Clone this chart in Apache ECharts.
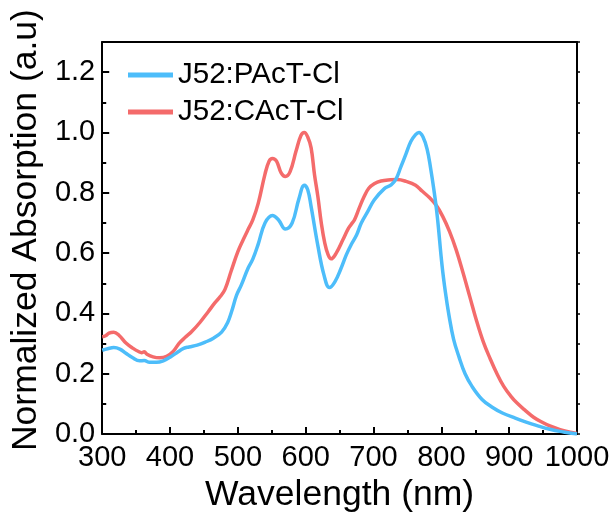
<!DOCTYPE html>
<html>
<head>
<meta charset="utf-8">
<script src="https://cdn.jsdelivr.net/npm/echarts@6/dist/echarts.min.js"></script>
<style>html,body{margin:0;padding:0;background:#fff}#c{width:613px;height:518px}</style>
</head>
<body>
<div id="c"></div>
<script>
const seriesNames = ['J52:PAcT-Cl', 'J52:CAcT-Cl'];
const xTicks = [300, 400, 500, 600, 700, 800, 900, 1000];
const yTicks = [0.0, 0.2, 0.4, 0.6, 0.8, 1.0, 1.2];

const paWave = [300,308,317,326,335,345,355,362,370,380,390,400,410,420,428,440,452,464,476,485,491,498,505,515,522,530,540,551,560,570,580,590,598,603,608,618,627,635,643,652,660,667,675,682,692,701,716,726,733,740,748,755,762,767,773,779,784,789,794,801,806,811,818,826,835,845,860,875,890,909,925,940,960,980,1000];
const paAbs  = [0.278,0.283,0.287,0.282,0.268,0.253,0.243,0.244,0.238,0.238,0.243,0.255,0.27,0.284,0.289,0.295,0.305,0.318,0.338,0.37,0.408,0.46,0.494,0.55,0.58,0.63,0.70,0.725,0.71,0.68,0.70,0.78,0.825,0.81,0.754,0.624,0.527,0.486,0.505,0.549,0.595,0.628,0.66,0.70,0.74,0.776,0.814,0.826,0.845,0.884,0.93,0.97,0.993,1.0,0.985,0.945,0.884,0.81,0.722,0.56,0.47,0.397,0.315,0.256,0.2,0.159,0.115,0.089,0.07,0.053,0.04,0.029,0.016,0.007,0.0];

const caWave = [300,305,310,317,325,335,345,355,358,362,366,375,385,395,405,413,422,432,444,456,466,474,481,490,500,508,515,522,530,540,546,551,557,564,570,577,586,593,598,603,608,613,618,623,628,633,637.5,645,655,662,667,672,679,686,693,701,711,725,735,748,762,772,782,792,802,812,822,832,842,852,862,872,882,892,902,912,924,936,948,960,975,990,1000];
const caAbs  = [0.323,0.326,0.335,0.338,0.327,0.302,0.285,0.272,0.27,0.273,0.265,0.256,0.253,0.258,0.275,0.30,0.32,0.34,0.37,0.405,0.435,0.456,0.48,0.54,0.605,0.645,0.678,0.71,0.765,0.862,0.905,0.914,0.905,0.865,0.854,0.87,0.94,0.99,1.0,0.985,0.949,0.86,0.787,0.70,0.635,0.595,0.581,0.60,0.645,0.678,0.695,0.711,0.75,0.787,0.815,0.83,0.839,0.843,0.844,0.838,0.825,0.805,0.785,0.76,0.722,0.672,0.61,0.535,0.455,0.375,0.305,0.25,0.2,0.158,0.127,0.102,0.078,0.056,0.04,0.027,0.015,0.006,0.002];

const colors = ['#4DBDFA', '#F46B6B'];
const pair = (xs, ys) => xs.map((x, i) => [x, ys[i]]);
const font = 'Liberation Sans, Arial, Helvetica, sans-serif';

const chart = echarts.init(document.getElementById('c'), null, {renderer: 'canvas'});
chart.setOption({
  animation: false,
  backgroundColor: '#fff',
  grid: {left: 100, right: 36, top: 42, bottom: 76, containLabel: false},
  legend: {
    orient: 'vertical', left: 123, top: 55, itemGap: 7,
    itemWidth: 45, itemHeight: 5, icon: 'rect',
    textStyle: {fontSize: 29.5, fontFamily: font, color: '#000', lineHeight: 30},
    data: seriesNames
  },
  xAxis: [{
    type: 'value', min: xTicks[0], max: xTicks[xTicks.length - 1], interval: 100,
    name: 'Wavelength (nm)', nameLocation: 'middle', nameGap: 29,
    nameTextStyle: {fontSize: 35.5, fontFamily: font, color: '#000'},
    axisLine: {show: true, onZero: false, lineStyle: {color: '#000', width: 2}},
    axisTick: {show: true, inside: true, length: 7, lineStyle: {color: '#000', width: 2}},
    minorTick: {show: true, splitNumber: 2, length: 4, lineStyle: {color: '#000', width: 2}},
    axisLabel: {fontSize: 29, fontFamily: font, color: '#000', margin: 9,
      formatter: v => String(v)},
    splitLine: {show: false}
  }, {
    type: 'value', position: 'top', min: 300, max: 1000,
    axisLine: {show: true, onZero: false, lineStyle: {color: '#000', width: 2}},
    axisTick: {show: false}, axisLabel: {show: false}, splitLine: {show: false}
  }],
  yAxis: [{
    type: 'value', min: 0, max: 1.3, interval: 0.2,
    name: 'Normalized Absorption (a.u)', nameLocation: 'middle', nameGap: 50, nameRotate: 90,
    nameTextStyle: {fontSize: 35.5, fontFamily: font, color: '#000', padding: [0, 0, 0, 16]},
    axisLine: {show: true, onZero: false, lineStyle: {color: '#000', width: 2}},
    axisTick: {show: true, inside: true, length: 7, lineStyle: {color: '#000', width: 2}},
    minorTick: {show: true, splitNumber: 2, length: 4, lineStyle: {color: '#000', width: 2}},
    axisLabel: {fontSize: 29, fontFamily: font, color: '#000', margin: 7, showMaxLabel: false,
      formatter: v => yTicks.some(t => Math.abs(t - v) < 1e-6) ? v.toFixed(1) : ''},
    splitLine: {show: false}
  }, {
    type: 'value', position: 'right', min: 0, max: 1.3, interval: 0.1,
    axisLine: {show: true, onZero: false, lineStyle: {color: '#000', width: 2}},
    axisTick: {show: true, inside: false, length: 3, lineStyle: {color: '#000', width: 1.5}},
    axisLabel: {show: false}, splitLine: {show: false}
  }],
  series: [{
    name: seriesNames[0], type: 'line', data: pair(paWave, paAbs), smooth: 0.4,
    showSymbol: false, symbol: 'none', itemStyle: {color: colors[0]},
    lineStyle: {color: colors[0], width: 3.5}, z: 3
  }, {
    name: seriesNames[1], type: 'line', data: pair(caWave, caAbs), smooth: 0.4,
    showSymbol: false, symbol: 'none', itemStyle: {color: colors[1]},
    lineStyle: {color: colors[1], width: 3.5}, z: 2
  }]
});
</script>
</body>
</html>
